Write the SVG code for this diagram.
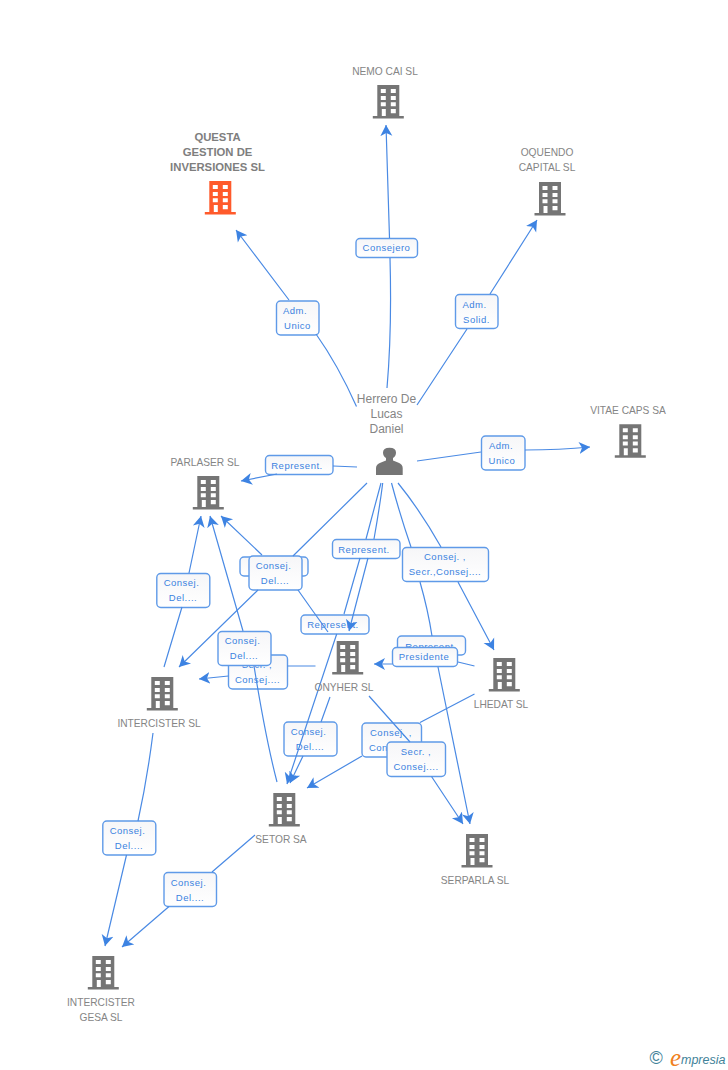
<svg xmlns="http://www.w3.org/2000/svg" width="728" height="1070" viewBox="0 0 728 1070">
<style>
text{font-family:"Liberation Sans",Arial,sans-serif}
.n{font-size:10.200px;fill:#858585;text-anchor:middle}
.q{font-size:11.300px;font-weight:bold;fill:#7e7e7e;text-anchor:middle}
.h{font-size:12px;fill:#858585;text-anchor:middle}
.t{font-size:9.500px;fill:#3b82e0;text-anchor:middle;letter-spacing:.5px}
.b{fill:url(#lg);stroke:#5f9ae8;stroke-width:1.4}
.e{fill:none;stroke:#4a8ae4;stroke-width:1.2;marker-end:url(#a)}
.gr{fill:#757575}
.or{fill:#ff5a2b}
</style>
<defs>
<linearGradient id="lg" x1="0" y1="0" x2="0" y2="1"><stop offset="0" stop-color="#f6f6f8"/><stop offset="1" stop-color="#ffffff"/></linearGradient>
<marker id="a" markerUnits="userSpaceOnUse" markerWidth="14" markerHeight="14" refX="11" refY="7" orient="auto"><path d="M11,7 L0,1 L3,7 L0,13 Z" fill="#3d83e2"/></marker>
<path id="bld" fill-rule="evenodd" d="M0,0H22V31H26.500V33.500H-4.500V31H0ZM3.500,4V8H8.500V4ZM13.500,4V8H18.500V4ZM3.500,11V15H8.500V11ZM13.500,11V15H18.500V11ZM3.500,17.300V21.300H8.500V17.300ZM13.500,17.300V21.300H18.500V17.300ZM4.500,24V31H8.500V24ZM13.500,24V28.300H18.500V24Z"/>
</defs>
<rect width="728" height="1070" fill="#ffffff"/>

<g id="labels">
<g><rect class="b" x="276.500" y="301" width="42.500" height="34" rx="4"/><text class="t" x="295" y="314">Adm.</text><text class="t" x="297.500" y="329">Unico</text></g>
<g><rect class="b" x="356" y="238.500" width="61.500" height="19" rx="4"/><text class="t" x="386.500" y="251">Consejero</text></g>
<g><rect class="b" x="455.500" y="294.500" width="42.500" height="34" rx="4"/><text class="t" x="474.500" y="308">Adm.</text><text class="t" x="476.500" y="323">Solid.</text></g>
<g><rect class="b" x="481.500" y="436" width="43.500" height="34" rx="4"/><text class="t" x="501" y="449">Adm.</text><text class="t" x="502" y="464">Unico</text></g>
<g><rect class="b" x="265.500" y="455.500" width="67.500" height="19" rx="4"/><text class="t" x="297" y="469">Represent.</text></g>
<g><rect class="b" x="240" y="557" width="68" height="19" rx="4"/><text class="t" x="274" y="570">Represent.</text></g>
<g><rect class="b" x="249" y="556" width="53" height="34" rx="4"/><text class="t" x="273.500" y="569">Consej.</text><text class="t" x="275" y="584">Del....</text></g>
<g><rect class="b" x="156.800" y="573.500" width="53" height="34" rx="4"/><text class="t" x="181.500" y="586">Consej.</text><text class="t" x="183" y="601">Del....</text></g>
<g><rect class="b" x="332.500" y="539.500" width="67.500" height="19" rx="4"/><text class="t" x="364" y="553">Represent.</text></g>
<g><rect class="b" x="402.500" y="547.500" width="86" height="34" rx="4"/><text class="t" x="445" y="560">Consej. ,</text><text class="t" x="445" y="575">Secr.,Consej....</text></g>
<g><rect class="b" x="301" y="615" width="68" height="19" rx="4"/><text class="t" x="333" y="628">Represent.</text></g>
<g><rect class="b" x="397.500" y="636" width="68" height="19" rx="4"/><text class="t" x="431" y="650">Represent.</text></g>
<g><rect class="b" x="392.500" y="647.500" width="65" height="19" rx="4"/><text class="t" x="424" y="660">Presidente</text></g>
<g><rect class="b" x="228.500" y="655" width="59" height="34" rx="4"/><text class="t" x="257" y="668">Secr. ,</text><text class="t" x="257.500" y="683">Consej....</text></g>
<g><rect class="b" x="218" y="631.500" width="53" height="34" rx="4"/><text class="t" x="242.500" y="644">Consej.</text><text class="t" x="244" y="659">Del....</text></g>
<g><rect class="b" x="284" y="722" width="53" height="34" rx="4"/><text class="t" x="308.500" y="735">Consej.</text><text class="t" x="310" y="750">Del....</text></g>
<g><rect class="b" x="362" y="723" width="59.500" height="34" rx="4"/><text class="t" x="391" y="736">Consej. ,</text><text class="t" x="391.500" y="751">Consej....</text></g>
<g><rect class="b" x="387" y="742" width="58.500" height="34.500" rx="4"/><text class="t" x="416" y="755">Secr. ,</text><text class="t" x="416" y="770">Consej....</text></g>
<g><rect class="b" x="102.800" y="821" width="53" height="34" rx="4"/><text class="t" x="127.500" y="834">Consej.</text><text class="t" x="129" y="849">Del....</text></g>
<g><rect class="b" x="164" y="872.500" width="52.500" height="34" rx="4"/><text class="t" x="188.500" y="886">Consej.</text><text class="t" x="190" y="901">Del....</text></g>
</g>

<g id="connectors">
<path class="e" d="M356.500,406.500Q338,365 316,334M289,300L236,230"/>
<path class="e" d="M387,388Q392,330 390,258M389.500,238L386,125"/>
<path class="e" d="M417,405L467,329M490,294L537,220"/>
<path class="e" d="M417,461L481,452M525,450Q560,450 590,447"/>
<path class="e" d="M357,467L333,466M277,474L241,481"/>
<path class="e" d="M367,483L293,556M262,555L221,516"/>
<path class="e" d="M328,632Q312,610 298,590M258,590L179,667"/>
<path class="e" d="M164,667L182,607M189,573L201,516"/>
<path class="e" d="M277,782Q266,740 254,666M243,631L210,516"/>
<path class="e" d="M381,483L366,539M360,558L344,614M336.700,634L287,784"/>
<path class="e" d="M382.700,483Q380,505 374,539M368,558L349,631"/>
<path class="e" d="M330,697L321,722M303,756L290,783"/>
<path class="e" d="M391.500,483Q400,515 411,547M420,582Q428,610 432,636M438,667L470,824"/>
<path class="e" d="M398,483Q420,510 441,547M458,582L494,650"/>
<path class="e" d="M474.500,666L458,662M392.500,664L374,664"/>
<path class="e" d="M315.500,666L287.500,666M228.500,676L199,679"/>
<path class="e" d="M474.500,694L420,722.500M362,756L307,788"/>
<path class="e" d="M369,696L410,742M431.500,776.500L463,824"/>
<path class="e" d="M153,733Q147,780 138,821M126.500,855L105,946"/>
<path class="e" d="M255,835L212,872M169,906.500L122,947"/>
</g>

<g id="n-questa"><use href="#bld" x="209.300" y="181" class="or"/><text class="q" x="217.500" y="141">QUESTA</text><text class="q" x="217.500" y="156">GESTION DE</text><text class="q" x="217.500" y="171">INVERSIONES SL</text></g>
<g id="n-nemo"><use href="#bld" x="377.300" y="85" class="gr"/><text class="n" x="385" y="75">NEMO CAI SL</text></g>
<g id="n-oquendo"><use href="#bld" x="539" y="182" class="gr"/><text class="n" x="547" y="156">OQUENDO</text><text class="n" x="547" y="171">CAPITAL SL</text></g>
<g id="n-vitae"><use href="#bld" x="619.300" y="424.300" class="gr"/><text class="n" x="628" y="414">VITAE CAPS SA</text></g>
<g id="n-herrero"><path class="gr" d="M376,475V468Q376,464 381,462.500L386,460.500V458Q383,456 383,452.500Q383,447.700 389.500,447.700Q396,447.700 396,452.500Q396,456 393,458V460.500L398,462.500Q402.700,464 402.700,468V475Z"/><text class="h" x="386.500" y="403">Herrero De</text><text class="h" x="386.500" y="418">Lucas</text><text class="h" x="386.500" y="433">Daniel</text></g>
<g id="n-parlaser"><use href="#bld" x="197.300" y="476" class="gr"/><text class="n" x="205" y="466">PARLASER SL</text></g>
<g id="n-onyher"><use href="#bld" x="336.700" y="641" class="gr"/><text class="n" x="344" y="691">ONYHER SL</text></g>
<g id="n-lhedat"><use href="#bld" x="493.300" y="658" class="gr"/><text class="n" x="501" y="708">LHEDAT SL</text></g>
<g id="n-intercister"><use href="#bld" x="151.300" y="677" class="gr"/><text class="n" x="159" y="727">INTERCISTER SL</text></g>
<g id="n-setor"><use href="#bld" x="273.300" y="793" class="gr"/><text class="n" x="281" y="843">SETOR SA</text></g>
<g id="n-serparla"><use href="#bld" x="466" y="834" class="gr"/><text class="n" x="475" y="884">SERPARLA SL</text></g>
<g id="n-gesa"><use href="#bld" x="92.300" y="956" class="gr"/><text class="n" x="101" y="1006">INTERCISTER</text><text class="n" x="101" y="1021">GESA SL</text></g>

<text x="649.500" y="1064" style="font-size:18px;fill:#3f8299">©</text>
<text x="670" y="1066" style="font-size:25px;font-style:italic;fill:#f08020;font-family:'Liberation Serif',serif">e</text>
<text x="681" y="1064" style="font-size:12.500px;font-style:italic;fill:#3f8299">mpresia</text>
</svg>
